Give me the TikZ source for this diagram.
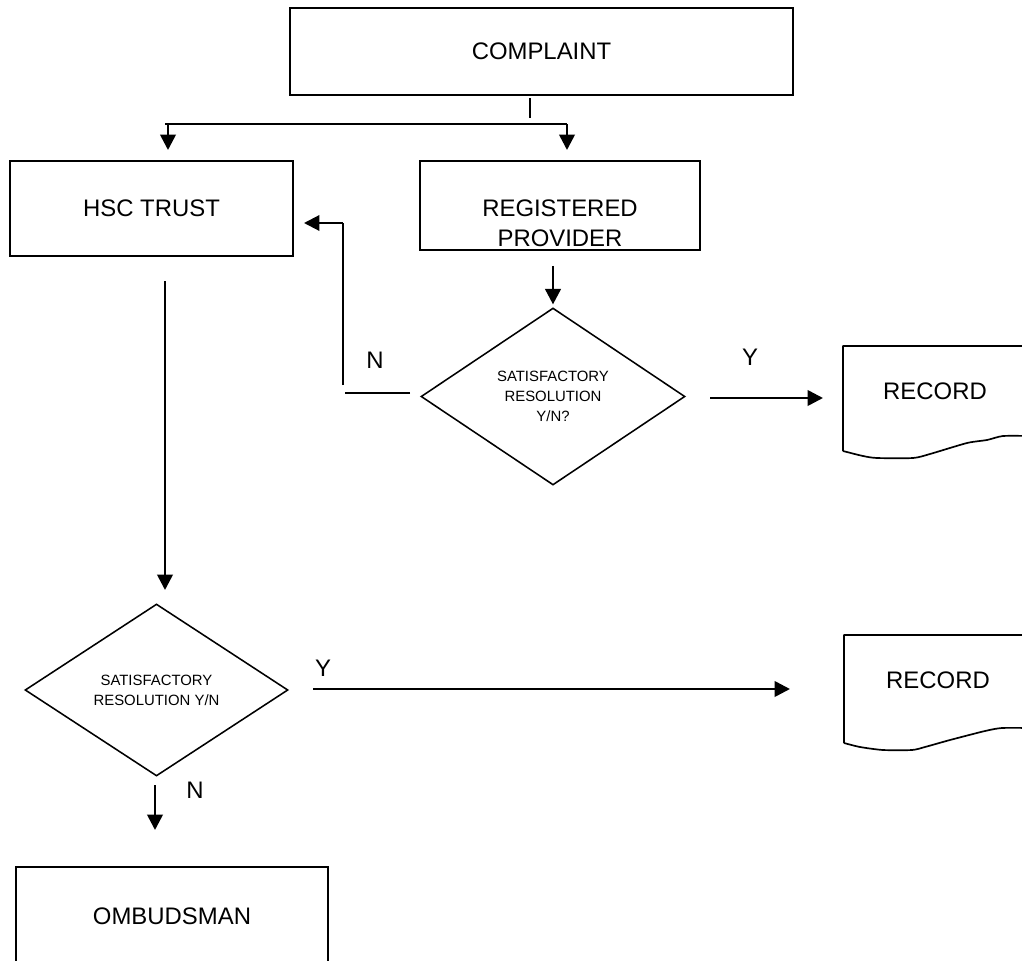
\documentclass[tikz,border=0pt]{standalone}
\usepackage{fontspec}
\setmainfont{Liberation Sans}
\usetikzlibrary{arrows.meta, calc, positioning, shapes.geometric}

\newcommand{\pxu}{0.025cm}
\newcommand{\bigtext}{\fontsize{17}{21.3}\selectfont}
\newcommand{\smalltext}{\fontsize{10.6}{14.2}\selectfont}

\tikzset{
  box/.style={draw, line width=1.2pt, inner sep=0pt, align=center},
  decision/.style={draw, diamond, line width=1.1pt, inner sep=0pt, align=center, font=\smalltext},
  flow/.style={-{Triangle[length=11pt,width=11pt]}, line width=1.9pt},
  link/.style={line width=1pt},
  paper/.style={line width=1.2pt, line join=round},
}

\begin{document}
\begin{tikzpicture}[x=\pxu,y=-\pxu,font=\bigtext]
  \useasboundingbox (0,0) rectangle (1022,961);
  \clip (0,0) rectangle (1022,961);
  % boxes and decisions
  \node[box, minimum width=503*\pxu, minimum height=87*\pxu] (complaint) at (541.5,51.5) {COMPLAINT};
  \node[box, minimum width=283*\pxu, minimum height=95*\pxu] (trust) at (151.5,208.5) {HSC TRUST};
  \node[box, minimum width=280*\pxu, minimum height=89*\pxu] (provider) at (560,205.5) {};
  \node[align=center, inner sep=0pt] (provtext) at (560,223) {REGISTERED\\PROVIDER};
  \node[decision, minimum width=264*\pxu, minimum height=177*\pxu] (check1) at (553,396.5) {SATISFACTORY\\RESOLUTION\\Y/N?};
  \node[decision, minimum width=263*\pxu, minimum height=172*\pxu] (check2) at (156.5,690) {SATISFACTORY\\RESOLUTION Y/N};
  \node[box, minimum width=312*\pxu, minimum height=98*\pxu] (ombud) at (172,916) {OMBUDSMAN};
  \node (record1) at (935,391) {RECORD};
  \node (record2) at (938,680) {RECORD};
  % record sheets
  \draw[paper] (1030,346) -- (843,346) -- (843,451)
    plot[smooth, tension=0.4] coordinates {(843,451) (863,456) (877,458) (913,458) (930,454) (967,443) (987,440) (1003,436) (1030,436)};
  \draw[paper] (1030,635) -- (844,635) -- (844,743)
    plot[smooth, tension=0.4] coordinates {(844,743) (860,747) (883,750) (912,750) (925,747) (950,740) (985,731) (1002,728) (1030,728)};
  % split below complaint
  \coordinate (stemtop) at (530,98);
  \coordinate (stembot) at (530,118);
  \coordinate (forkL) at (165,124);
  \coordinate (forkR) at (567,124);
  \coordinate (toTrust) at (168,150);
  \coordinate (toProv) at (567,150);
  \draw[line width=1.5pt] (stemtop) -- (stembot);
  \draw[line width=1.9pt] (forkL) -- (forkR);
  \draw[flow] (forkL -| toTrust) -- (toTrust);
  \draw[flow] (forkR) -- (toProv);
  % provider route
  \draw[flow, shorten <=10.6pt, shorten >=2pt] (provider.south -| check1.north) -- (check1.north);
  \coordinate (n1) at (410,393);
  \coordinate (n2) at (345,393);
  \coordinate (n3) at (343,385);
  \coordinate (n4) at (343,223);
  \coordinate (n5) at (304,223);
  \draw[link] (n1) -- (n2);
  \draw[link] (n3) -- (n4);
  \draw[flow, line width=1.5pt] (n4) -- (n5);
  \node (no1) at (375,360) {N};
  \coordinate (y1a) at (710,398);
  \coordinate (y1b) at (823,398);
  \draw[flow] (y1a) -- (y1b);
  \node (yes1) at (750,357) {Y};
  % trust route
  \coordinate (t1) at (165,281);
  \coordinate (t2) at (165,590);
  \draw[flow] (t1) -- (t2);
  \coordinate (y2a) at (313,689);
  \coordinate (y2b) at (790,689);
  \draw[flow] (y2a) -- (y2b);
  \node (yes2) at (323,668) {Y};
  \coordinate (o1) at (155,785);
  \coordinate (o2) at (155,830);
  \draw[flow] (o1) -- (o2);
  \node (no2) at (195,790) {N};
\end{tikzpicture}
\end{document}
